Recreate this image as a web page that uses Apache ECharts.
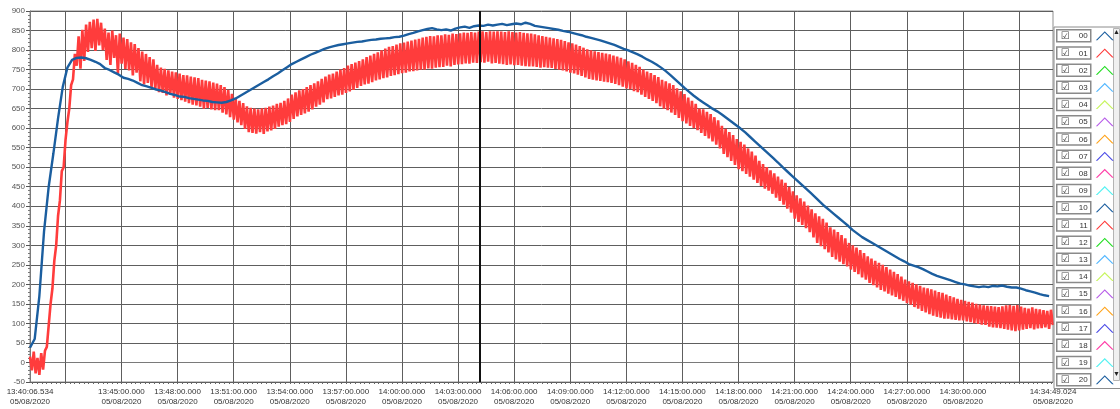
<!DOCTYPE html>
<html>
<head>
<meta charset="utf-8">
<title>Trend 05/08/2020</title>
<style>
    html, body { margin: 0; padding: 0; background: #fff; }
    #trend { width: 1120px; height: 409px; }
</style>
</head>
<body>
<div id="trend"></div>

<script src="https://cdn.jsdelivr.net/npm/echarts@6/dist/echarts.min.js"></script>
<script type="text/javascript">

    // time range of the recording (hh:mm:ss.mmm)
    var startTime = '13:40:06.534';
    var endTime = '14:34:49.024';
    var dateText = '05/08/2020';
    var cursorTime = '14:04:09.000';

    // labelled ticks on the time axis
    var labelTimes = ['13:40:06.534', '13:45:00.000', '13:48:00.000', '13:51:00.000', '13:54:00.000',
        '13:57:00.000', '14:00:00.000', '14:03:00.000', '14:06:00.000', '14:09:00.000', '14:12:00.000',
        '14:15:00.000', '14:18:00.000', '14:21:00.000', '14:24:00.000', '14:27:00.000', '14:30:00.000',
        '14:34:49.024'];
    // vertical grid lines
    var gridTimes = ['13:42:00.000', '13:45:00.000', '13:48:00.000', '13:51:00.000', '13:54:00.000',
        '13:57:00.000', '14:00:00.000', '14:03:00.000', '14:06:00.000', '14:09:00.000', '14:12:00.000',
        '14:15:00.000', '14:18:00.000', '14:21:00.000', '14:24:00.000', '14:27:00.000', '14:30:00.000',
        '14:33:00.000'];
    var minorTickSeconds = 15;

    var seriesNames = ['00', '01', '02', '03', '04', '05', '06', '07', '08', '09', '10',
        '11', '12', '13', '14', '15', '16', '17', '18', '19', '20'];
    var seriesColors = ['#1b5e9f', '#ff3c3c', '#22dd22', '#55b8ff', '#c8f560', '#b65ae8', '#ffa41c',
        '#4a4ae6', '#ff3fa8', '#55f2f2', '#1b5e9f', '#ff3c3c', '#22dd22', '#55b8ff', '#c8f560',
        '#b65ae8', '#ffa41c', '#4a4ae6', '#ff3fa8', '#55f2f2', '#1b5e9f'];

    // channel 00, one sample every 15 s (one row = one minute)
    var ch00Step = 15;
    var ch00Values = [
        38, 60, 170, 335,
        450, 535, 625, 705,
        755, 775, 780, 781,
        779, 775, 770, 764,
        754, 749, 743, 737,
        729, 726, 722, 716,
        710, 707, 703, 699,
        696, 692, 688, 685,
        681, 680, 677, 675,
        673, 671, 670, 667,
        666, 665, 667, 671,
        676, 683, 690, 697,
        704, 711, 718, 725,
        733, 740, 748, 756,
        764, 770, 776, 782,
        788, 793, 798, 803,
        807, 810, 813, 815,
        817, 819, 821, 822,
        824, 826, 827, 829,
        830, 831, 833, 834,
        837, 841, 844, 848,
        851, 854, 856, 853,
        851, 853, 850, 855,
        858, 860, 857, 861,
        863, 862, 865, 863,
        865, 867, 864, 866,
        868, 866, 870, 867,
        862, 860, 858, 856,
        854, 852, 849, 847,
        844, 841, 838, 834,
        831, 828, 825, 821,
        817, 813, 808, 803,
        799, 794, 789, 783,
        776, 770, 763, 755,
        746, 736, 725, 714,
        703, 693, 683, 674,
        666, 658, 650, 643,
        635, 626, 617, 608,
        599, 589, 578, 567,
        556, 545, 534, 523,
        512, 500, 489, 478,
        467, 456, 445, 434,
        423, 411, 400, 390,
        380, 370, 360, 350,
        339, 330, 321, 314,
        307, 300, 293, 286,
        279, 272, 265, 259,
        252, 248, 244, 239,
        233, 227, 222, 218,
        214, 210, 206, 202,
        200, 197, 195, 193,
        195, 193, 196, 195,
        197, 194, 192, 192,
        189, 185, 182, 179,
        175, 172, 170
    ];

    // channel 01, one sample every 6 s (one row = one minute)
    var ch01Step = 6;
    var ch01Values = [
        15, -20, 28, -28, 12, -32, 24, -18, 30, 40,
        95, 150, 190, 260, 300, 375, 415, 490, 500, 570,
        615, 650, 710, 725, 790, 760, 835, 752, 852, 772,
        865, 795, 872, 805, 878, 798, 880, 812, 870, 800,
        855, 775, 845, 762, 850, 780, 838, 740, 842, 765,
        832, 752, 828, 748, 820, 735, 815, 742, 805, 720,
        796, 712, 790, 716, 782, 705, 776, 700, 762, 692,
        755, 690, 752, 684, 748, 686, 745, 678, 743, 675,
        740, 672, 736, 668, 735, 664, 732, 660, 730, 658,
        728, 655, 724, 650, 722, 652, 720, 648, 717, 646,
        714, 646, 710, 640, 705, 635, 698, 628, 688, 622,
        676, 615, 670, 608, 664, 598, 656, 590, 652, 588,
        650, 586, 648, 590, 651, 585, 652, 592, 655, 594,
        658, 598, 662, 604, 665, 608, 670, 610, 676, 616,
        686, 624, 692, 630, 697, 634, 700, 638, 705, 642,
        710, 648, 715, 655, 720, 660, 726, 666, 732, 674,
        737, 676, 740, 680, 745, 684, 750, 686, 754, 690,
        760, 694, 764, 698, 768, 703, 772, 708, 776, 712,
        782, 714, 786, 718, 790, 722, 794, 725, 799, 728,
        804, 730, 808, 734, 810, 736, 814, 738, 817, 741,
        819, 742, 822, 745, 824, 746, 827, 748, 829, 750,
        832, 750, 834, 753, 836, 752, 835, 755, 838, 756,
        838, 757, 840, 760, 839, 758, 842, 762, 841, 763,
        843, 764, 845, 766, 844, 765, 846, 768, 845, 767,
        847, 769, 848, 768, 846, 770, 848, 766, 847, 767,
        848, 765, 847, 764, 846, 762, 848, 763, 846, 761,
        845, 762, 846, 760, 844, 759, 843, 758, 842, 758,
        840, 757, 838, 755, 836, 756, 834, 755, 832, 754,
        830, 752, 828, 750, 826, 748, 823, 745, 820, 742,
        817, 740, 814, 737, 810, 734, 806, 730, 802, 726,
        799, 724, 797, 722, 795, 721, 793, 719, 791, 718,
        789, 716, 786, 713, 783, 710, 780, 706, 776, 702,
        771, 700, 767, 695, 762, 692, 757, 686, 750, 680,
        745, 675, 741, 670, 736, 664, 731, 656, 724, 650,
        720, 646, 715, 640, 710, 634, 702, 626, 694, 618,
        687, 612, 678, 606, 670, 600, 662, 595, 650, 588,
        648, 580, 642, 574, 636, 566, 628, 558, 620, 548,
        606, 534, 598, 526, 590, 516, 582, 506, 572, 495,
        565, 490, 558, 483, 548, 476, 540, 468, 530, 460,
        516, 452, 508, 445, 500, 440, 492, 432, 484, 422,
        476, 414, 468, 404, 460, 394, 450, 384, 438, 368,
        428, 360, 420, 352, 412, 344, 402, 334, 392, 320,
        382, 306, 374, 298, 368, 290, 358, 282, 346, 270,
        340, 264, 334, 258, 326, 252, 318, 246, 306, 238,
        300, 232, 294, 226, 288, 218, 280, 212, 272, 204,
        266, 198, 260, 192, 255, 186, 250, 182, 244, 176,
        238, 172, 232, 168, 226, 162, 220, 158, 212, 152,
        208, 148, 204, 142, 200, 138, 196, 132, 192, 128,
        190, 124, 187, 120, 184, 117, 180, 115, 178, 112,
        174, 112, 170, 110, 167, 109, 163, 108, 160, 108,
        158, 105, 155, 103, 153, 101, 150, 99, 148, 97,
        146, 96, 145, 92, 144, 90, 143, 89, 142, 88,
        144, 86, 146, 84, 147, 82, 145, 80, 147, 82,
        143, 84, 140, 86, 138, 88, 141, 85, 137, 87,
        136, 88, 134, 90, 132, 86, 135, 96
    ];

    function toMs(text) {
        var p = text.split(':');
        return Math.round((parseInt(p[0], 10) * 3600 + parseInt(p[1], 10) * 60 + parseFloat(p[2])) * 1000);
    }

    function pad(n, len) {
        var s = String(n);
        while (s.length < len) s = '0' + s;
        return s;
    }

    function timeLabel(ms) {
        ms = Math.round(ms);
        var h = Math.floor(ms / 3600000);
        var m = Math.floor(ms / 60000) % 60;
        var s = Math.floor(ms / 1000) % 60;
        return pad(h, 2) + ':' + pad(m, 2) + ':' + pad(s, 2) + '.' + pad(ms % 1000, 3) + '\n' + dateText;
    }

    function buildTrace(values, stepSeconds) {
        var startMs = toMs(startTime);
        return values.map(function (v, i) {
            return [startMs + i * stepSeconds * 1000, v];
        });
    }

    function creatTrend() {
        var startMs = toMs(startTime);
        var endMs = toMs(endTime);
        var minorMs = [];
        for (var t = Math.ceil(startMs / (minorTickSeconds * 1000)) * minorTickSeconds * 1000; t <= endMs; t += minorTickSeconds * 1000) {
            minorMs.push(t);
        }

        var series = seriesNames.map(function (name, i) {
            var s = {
                name: name,
                type: 'line',
                xAxisIndex: 0,
                showSymbol: false,
                symbol: 'none',
                color: seriesColors[i],
                lineStyle: { width: 1, color: seriesColors[i] },
                data: []
            };
            if (i === 0) {
                s.data = buildTrace(ch00Values, ch00Step);
                s.z = 4;
                s.lineStyle.width = 2.4;
                s.markLine = {
                    silent: true,
                    symbol: ['none', 'none'],
                    label: { show: false },
                    lineStyle: { color: '#111', width: 2, type: 'solid' },
                    data: [{ xAxis: toMs(cursorTime) }]
                };
            } else if (i === 1) {
                s.data = buildTrace(ch01Values, ch01Step);
                s.z = 3;
                s.lineStyle.width = 2.6;
                s.lineStyle.join = 'bevel';
            }
            return s;
        });

        var chart = echarts.init(document.getElementById('trend'));
        chart.setOption({
            animation: false,
            textStyle: { fontFamily: 'Liberation Sans' },
            grid: {
                left: 30, right: 67, top: 11, bottom: 27,
                show: true, borderColor: '#8f8f8f', borderWidth: 1
            },
            xAxis: [
                {
                    type: 'value',
                    position: 'bottom',
                    min: startMs,
                    max: endMs,
                    axisLine: { lineStyle: { color: '#7a7a7a' } },
                    axisTick: { customValues: gridTimes.map(toMs), length: 4, lineStyle: { color: '#555' } },
                    axisLabel: {
                        customValues: labelTimes.map(toMs),
                        formatter: timeLabel,
                        fontSize: 8,
                        lineHeight: 10,
                        color: '#333',
                        margin: 5
                    },
                    splitLine: { show: true, lineStyle: { color: '#5e5e5e', width: 1 } }
                },
                {
                    type: 'value',
                    position: 'bottom',
                    min: startMs,
                    max: endMs,
                    axisLine: { show: false },
                    axisTick: { customValues: minorMs, length: 2, lineStyle: { color: '#666' } },
                    axisLabel: { show: false },
                    splitLine: { show: false }
                }
            ],
            yAxis: {
                type: 'value',
                min: -50,
                max: 900,
                interval: 50,
                axisLine: { show: true, lineStyle: { color: '#7a7a7a' } },
                axisTick: { show: true, length: 4, lineStyle: { color: '#555' } },
                minorTick: { show: true, splitNumber: 5, length: 2, lineStyle: { color: '#777' } },
                axisLabel: { fontSize: 8, color: '#555', margin: 5 },
                splitLine: { lineStyle: { color: '#5e5e5e', width: 1 } }
            },
            legend: {
                orient: 'vertical',
                left: 1054,
                top: 27,
                align: 'right',
                data: seriesNames,
                selectedMode: false,
                itemWidth: 18,
                itemHeight: 9,
                itemGap: 3.7,
                icon: 'path://M0,10L10,0L20,10L18.2,10L10,1.8L1.8,10Z',
                itemStyle: { borderWidth: 0 },
                padding: [2, 8, 2, 2],
                borderColor: '#8c8c8c',
                borderWidth: 1,
                formatter: function (name) {
                    return '{c|\u2611}{n|' + name + '}';
                },
                textStyle: {
                    color: '#333',
                    fontSize: 8,
                    borderColor: '#8a8a8a',
                    borderWidth: 1.5,
                    padding: [1, 3, 0, 2],
                    rich: {
                        c: { fontFamily: 'DejaVu Sans', fontSize: 10, lineHeight: 11, color: '#444', width: 11 },
                        n: { fontSize: 8, lineHeight: 11, color: '#333', width: 16, padding: [0, 0, 0, 2] }
                    }
                }
            },
            graphic: [
                { type: 'rect', left: 1113, top: 28, shape: { width: 6, height: 352 }, style: { fill: '#f0f0f0', stroke: '#b4b4b4' } },
                { type: 'text', left: 1113, top: 29, style: { text: '\u25B2', fontSize: 7, fill: '#222' } },
                { type: 'text', left: 1113, top: 371, style: { text: '\u25BC', fontSize: 7, fill: '#222' } }
            ],
            series: series
        });
    }

    creatTrend();

</script>
</body>
</html>
